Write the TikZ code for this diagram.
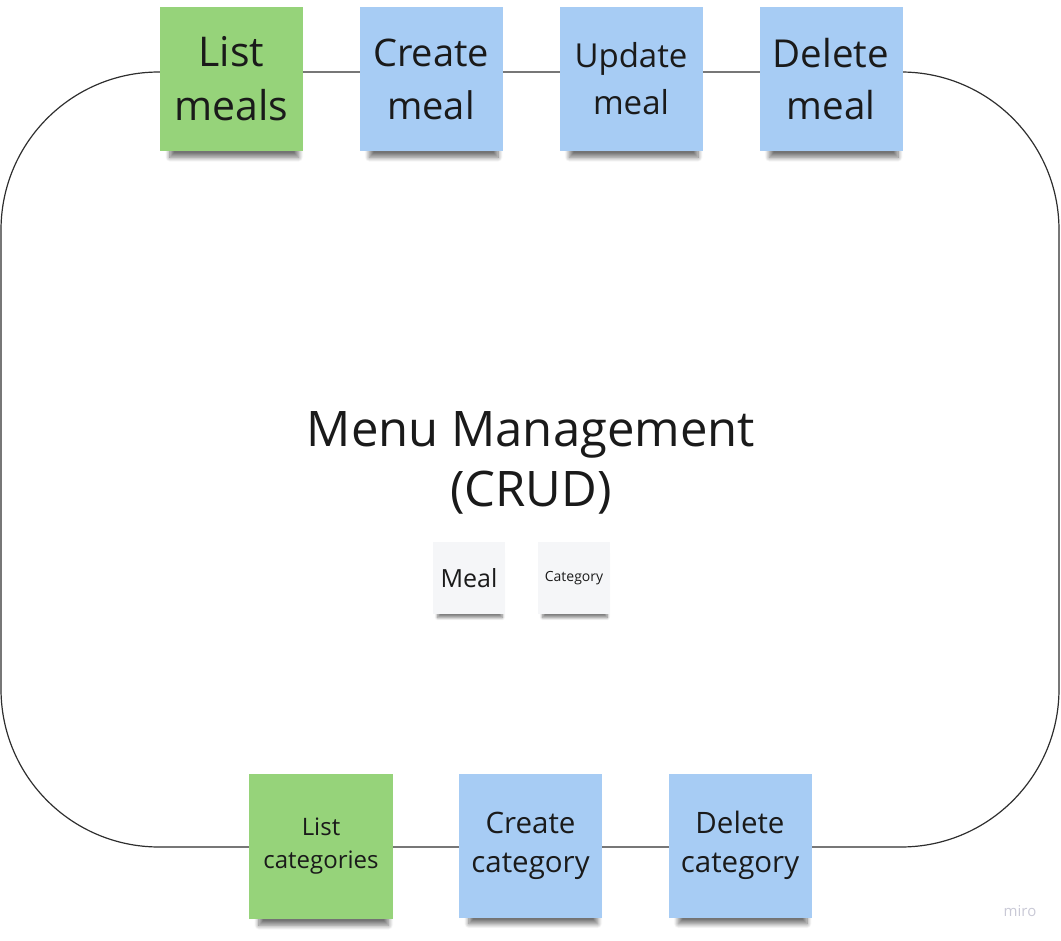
\documentclass[tikz,border=0pt]{standalone}
\usepackage{fontspec}
\setmainfont{Open Sans}
\usetikzlibrary{shadows.blur}
\definecolor{notegreen}{HTML}{96D37A}
\definecolor{noteblue}{HTML}{A7CCF4}
\definecolor{notegrey}{HTML}{F5F6F8}
\definecolor{inktext}{HTML}{1A1A1A}
\definecolor{frameline}{HTML}{2E2E2E}
\definecolor{mirogrey}{HTML}{C9C9D6}
\tikzset{
  sticky/.style={minimum width=143pt, minimum height=144pt, inner sep=0pt, align=center, text=inktext,
    blur shadow={shadow xshift=3pt, shadow yshift=-15pt, shadow blur steps=10, shadow opacity=55, shadow scale=0.9, shadow blur radius=5pt}},
  smallsticky/.style={minimum width=72pt, minimum height=72pt, inner sep=0pt, align=center, text=inktext,
    blur shadow={shadow xshift=1pt, shadow yshift=-8pt, shadow blur steps=8, shadow opacity=50, shadow scale=0.9, shadow blur radius=3pt}},
  greennote/.style={sticky, fill=notegreen},
  bluenote/.style={sticky, fill=noteblue},
  greynote/.style={smallsticky, fill=notegrey},
  fsl/.style 2 args={font=\fontsize{#1pt}{#2pt}\selectfont}
}
\begin{document}
\begin{tikzpicture}[x=1pt,y=-1pt]
\useasboundingbox (0,0) rectangle (1061,941);
\node[draw=frameline, line width=1.2pt, rounded corners=158pt, minimum width=1058pt, minimum height=775pt, inner sep=0pt] (frame) at (530,459.5) {};
% top notes
\node[greennote, fsl={41}{54}] (listmeals) at (231.5,79) {List\\meals};
\node[bluenote, fsl={38}{53}] (createmeal) at (431,79) {Create\\meal};
\node[bluenote, fsl={33}{47}] (updatemeal) at (631,79) {Update\\meal};
\node[bluenote, fsl={38.5}{52}] (deletemeal) at (831,79) {Delete\\meal};
% title
\node[fsl={49}{60}, align=center, text=inktext] (title) at (531,463) {Menu Management\\(CRUD)};
% entity notes
\node[greynote, fsl={25}{30}] (meal) at (469,578) {Meal};
\node[greynote, fsl={14}{17}] (category) at (574,578) {Category};
% bottom notes
\node[greennote, fsl={24}{33}, minimum width=144pt, minimum height=145pt] (listcat) at (321,846.5) {List\\categories};
\node[bluenote, fsl={29.5}{39}] (createcat) at (530.5,845.5) {Create\\category};
\node[bluenote, fsl={29.5}{39}] (deletecat) at (740,845.5) {Delete\\category};
% watermark
\node[fsl={15}{18}, text=mirogrey] (miro) at (1020,911) {miro};
\end{tikzpicture}
\end{document}
